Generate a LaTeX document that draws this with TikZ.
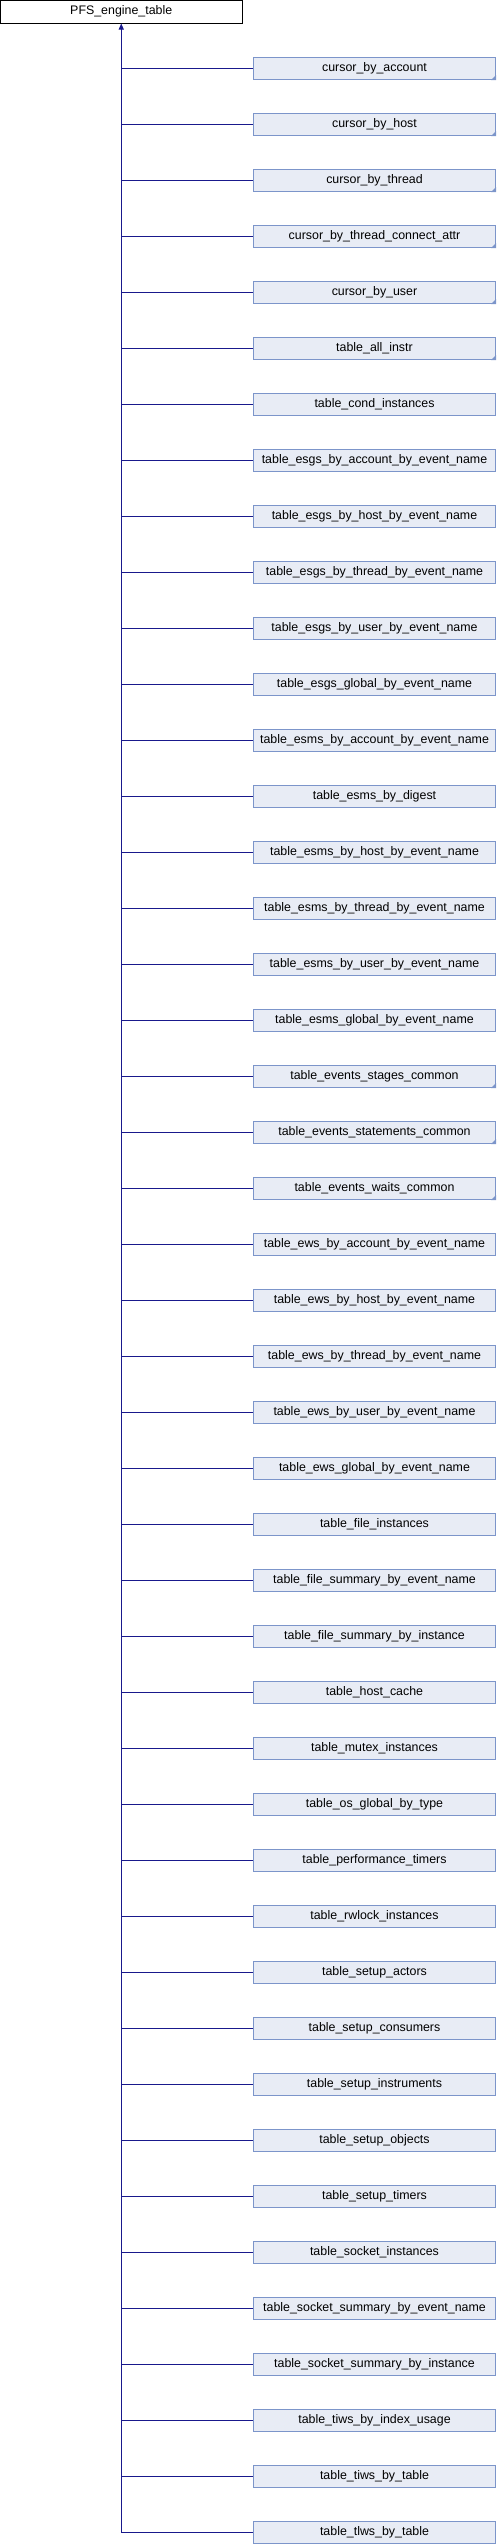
\documentclass[tikz,border=0pt]{standalone}
\usepackage{fontspec}
\setmainfont{Liberation Sans}
\usetikzlibrary{arrows.meta}
\definecolor{boxfill}{RGB}{232,236,245}
\definecolor{boxline}{RGB}{124,149,202}
\definecolor{edgecol}{RGB}{25,25,140}
\tikzset{
  childbox/.style={draw=boxline, fill=boxfill, line width=1pt, minimum width=242pt, minimum height=22.6pt, inner sep=0pt, font=\fontsize{12.4}{14}\selectfont},
  topbox/.style={draw=black, fill=white, line width=1pt, minimum width=241.5pt, minimum height=22.5pt, inner sep=0pt, font=\fontsize{12.4}{14}\selectfont},
  edge/.style={draw=edgecol, line width=1pt},
  cornermark/.style={fill=boxline}
}
\begin{document}
\begin{tikzpicture}
\useasboundingbox (0,0) rectangle (496pt,-2544pt);
\node[topbox] (top) at (121.25pt,-11.75pt) {PFS\_engine\_table};
\foreach [count=\i] \t/\f in {
cursor\_by\_account/1,
cursor\_by\_host/1,
cursor\_by\_thread/1,
cursor\_by\_thread\_connect\_attr/1,
cursor\_by\_user/1,
table\_all\_instr/1,
table\_cond\_instances/0,
table\_esgs\_by\_account\_by\_event\_name/0,
table\_esgs\_by\_host\_by\_event\_name/0,
table\_esgs\_by\_thread\_by\_event\_name/0,
table\_esgs\_by\_user\_by\_event\_name/0,
table\_esgs\_global\_by\_event\_name/0,
table\_esms\_by\_account\_by\_event\_name/0,
table\_esms\_by\_digest/0,
table\_esms\_by\_host\_by\_event\_name/0,
table\_esms\_by\_thread\_by\_event\_name/0,
table\_esms\_by\_user\_by\_event\_name/0,
table\_esms\_global\_by\_event\_name/0,
table\_events\_stages\_common/1,
table\_events\_statements\_common/1,
table\_events\_waits\_common/1,
table\_ews\_by\_account\_by\_event\_name/0,
table\_ews\_by\_host\_by\_event\_name/0,
table\_ews\_by\_thread\_by\_event\_name/0,
table\_ews\_by\_user\_by\_event\_name/0,
table\_ews\_global\_by\_event\_name/0,
table\_file\_instances/0,
table\_file\_summary\_by\_event\_name/0,
table\_file\_summary\_by\_instance/0,
table\_host\_cache/0,
table\_mutex\_instances/0,
table\_os\_global\_by\_type/0,
table\_performance\_timers/0,
table\_rwlock\_instances/0,
table\_setup\_actors/0,
table\_setup\_consumers/0,
table\_setup\_instruments/0,
table\_setup\_objects/0,
table\_setup\_timers/0,
table\_socket\_instances/0,
table\_socket\_summary\_by\_event\_name/0,
table\_socket\_summary\_by\_instance/0,
table\_tiws\_by\_index\_usage/0,
table\_tiws\_by\_table/0,
table\_tlws\_by\_table/0}
{
  \pgfmathsetmacro\yy{-(68.35+56*(\i-1))}
  \node[childbox] (c\i) at (374.5pt,\yy pt) {\t};
  \draw[edge] (top.south |- c\i.west) -- (c\i.west);
  \ifnum\f=1
    \fill[cornermark] (c\i.south east) -- ++(-5pt,0pt) -- ++(5pt,5pt) -- cycle;
  \fi
}
\draw[edge,-{Triangle[width=5pt,length=6pt]}] (top.south |- c45.west) -- (top.south);
\end{tikzpicture}
\end{document}
